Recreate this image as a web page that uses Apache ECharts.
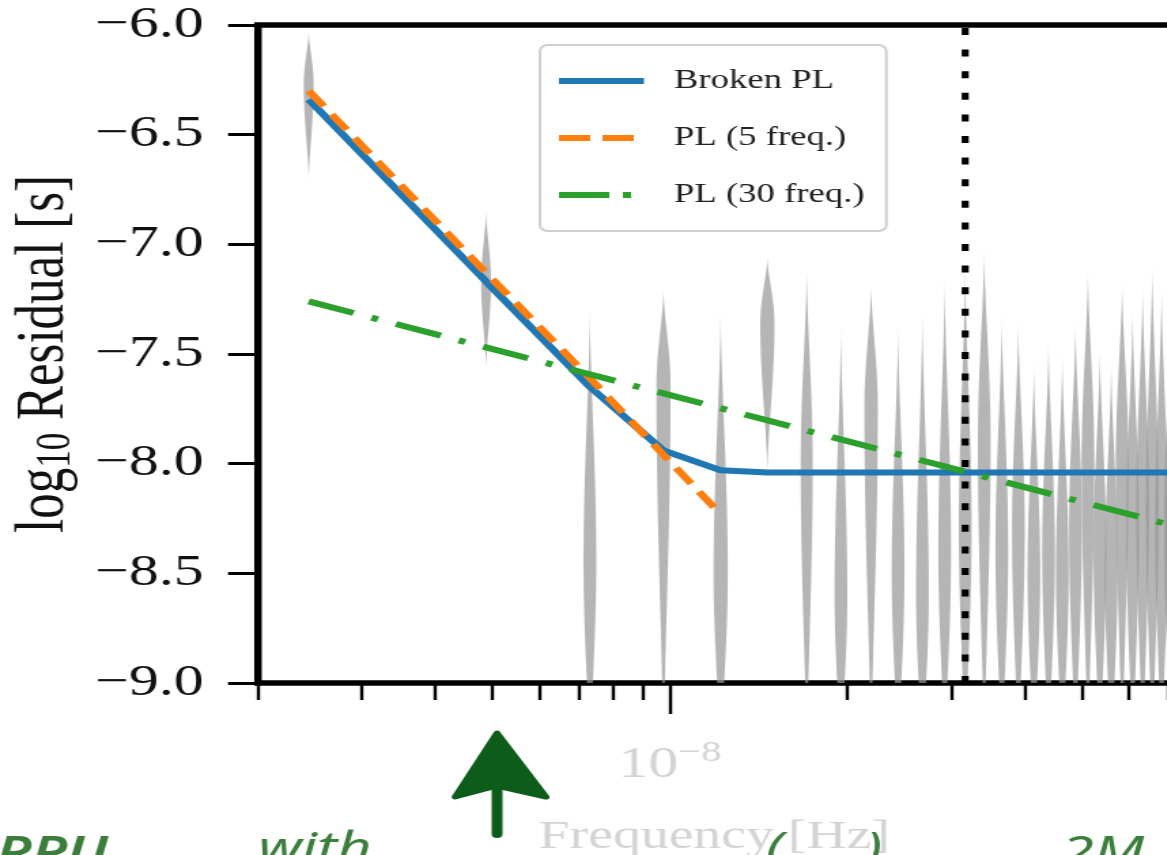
<!DOCTYPE html>
<html>
<head>
<meta charset="utf-8">
<script src="https://cdn.jsdelivr.net/npm/echarts@6/dist/echarts.min.js"></script>
<style>
html,body{margin:0;padding:0;background:#fff;overflow:hidden;}
#wrap{width:1167px;height:855px;overflow:hidden;position:relative;}
#c{width:858px;height:855px;transform:scaleX(1.36);transform-origin:0 0;}
</style>
</head>
<body>
<div id="wrap"><div id="c"></div></div>
<script>
// ---- data ----
// Fourier frequencies (Hz), i / Tspan
const freqsHz = [2.438e-9, 4.875e-9, 7.313e-9, 9.750e-9, 1.219e-8, 1.463e-8, 1.706e-8, 1.950e-8, 2.194e-8, 2.438e-8,
                 2.681e-8, 2.925e-8, 3.169e-8, 3.413e-8, 3.656e-8, 3.900e-8, 4.144e-8, 4.388e-8, 4.631e-8, 4.875e-8,
                 5.119e-8, 5.363e-8, 5.606e-8, 5.850e-8, 6.094e-8, 6.338e-8, 6.581e-8, 6.825e-8, 7.069e-8, 7.313e-8];
// violin posteriors: top, peak (densest), bottom in log10 residual, relative width
const violinTop    = [-6.03,-6.85,-7.30,-7.21,-7.31,-7.06,-7.12,-7.38,-7.19,-7.38,-7.31,-7.16,-7.10,-7.03,-7.33,-7.36,-7.55,-7.45,-7.51,-7.36,-7.12,-7.48,-7.54,-7.18,-7.30,-7.20,-7.10,-7.20,-7.25,-7.25];
const violinPeak   = [-6.27,-7.17,-8.45,-7.65,-8.50,-7.36,-8.00,-8.60,-7.75,-8.50,-8.60,-8.40,-8.30,-7.90,-8.40,-8.30,-8.50,-8.40,-8.50,-8.30,-8.00,-8.40,-8.50,-8.00,-8.30,-8.20,-8.20,-8.30,-8.30,-8.30];
const violinBottom = [-6.71,-7.57,-9.40,-9.40,-9.40,-8.05,-9.40,-9.40,-9.40,-9.40,-9.40,-9.40,-9.40,-9.40,-9.40,-9.40,-9.40,-9.40,-9.40,-9.40,-9.40,-9.40,-9.40,-9.40,-9.40,-9.40,-9.40,-9.40,-9.40,-9.40];
const violinWidth  = [0.7,0.7,0.9,1.0,1.0,1.0,0.85,0.9,0.95,0.9,0.9,0.9,0.9,0.9,0.9,0.9,0.9,0.9,0.9,0.9,0.9,0.9,0.9,0.9,0.9,0.9,0.9,0.9,0.9,0.9];
// model curves (log10 residual [s])
const brokenPL = [-6.34,-7.17,-7.65,-7.94,-8.03,-8.04,-8.04,-8.04,-8.04,-8.04,-8.04,-8.04,-8.04,-8.04,-8.04,-8.04,-8.04,-8.04,-8.04,-8.04,-8.04,-8.04,-8.04,-8.04,-8.04,-8.04,-8.04,-8.04,-8.04,-8.04];
const pl5Freq = [-6.30,-7.13,-7.61,-7.96,-8.23];          // at first 5 frequencies
const pl30Freq = [-7.26,-8.29];                            // at first and last frequency
const oneOverYearHz = 3.169e-8;
const xRangeHz = [2.0e-9, 8.65e-8];
const yTicks = [-9.0,-8.5,-8.0,-7.5,-7.0,-6.5,-6.0];
const majorTicksHz = [1e-8];
const minorTicksHz = [2e-9,3e-9,4e-9,5e-9,6e-9,7e-9,8e-9,9e-9,2e-8,3e-8,4e-8,5e-8,6e-8,7e-8,8e-8];
const seriesNames = ['Broken PL','PL (5 freq.)','PL (30 freq.)'];

// ---- build ----
const L = v => Math.log10(v);
const xMin = L(xRangeHz[0]), xMax = L(xRangeHz[1]);
const violinData = freqsHz.map((f,i)=>[L(f), violinTop[i], violinPeak[i], violinBottom[i], violinWidth[i]]);
const VW = 5.2;
function renderViolin(params, api){
  const x = api.value(0);
  const pT = api.coord([x, api.value(1)]);
  const pP = api.coord([x, api.value(2)]);
  const pB = api.coord([x, api.value(3)]);
  const W = VW * api.value(4);
  const cx = pT[0];
  const N = 30, right = [], left = [];
  for (let i=0;i<=N;i++){
    const u=i/N, y=pT[1]+(pP[1]-pT[1])*u, w=W*Math.pow(Math.sin(u*Math.PI/2),1.6);
    right.push([cx+w,y]); left.push([cx-w,y]);
  }
  for (let i=1;i<=N;i++){
    const u=i/N, y=pP[1]+(pB[1]-pP[1])*u, w=W*Math.pow(Math.cos(u*Math.PI/2),1.6);
    right.push([cx+w,y]); left.push([cx-w,y]);
  }
  return {type:'polygon', shape:{points: right.concat(left.reverse())},
          style:{fill:'rgba(150,150,150,0.7)'}};
}
const serif = 'Liberation Serif';
const green = '#3b7d3b', arrowGreen = '#0e5c1a', faded = '#d4d4d4';
const chart = echarts.init(document.getElementById('c'), null, {renderer:'canvas', width:858, height:855});
chart.setOption({
  animation:false,
  backgroundColor:'#fff',
  grid:{left:189.7, top:25, height:658, width:709, outerBoundsMode:'none',
        show:true, borderColor:'#000', borderWidth:5.5, backgroundColor:'transparent'},
  legend:{
    data:[
      {name:seriesNames[0]},
      {name:seriesNames[1], lineStyle:{type:[23,9]}},
      {name:seriesNames[2], lineStyle:{type:[37,10,6,20]}}
    ],
    orient:'vertical', left:397, top:45,
    itemWidth:62.5, itemHeight:25, itemGap:30,
    padding:[22.5,16,22.5,11],
    itemStyle:{opacity:0},
    lineStyle:{width:6},
    backgroundColor:'rgba(255,255,255,0.85)', borderColor:'#cfcfcf', borderWidth:2, borderRadius:6,
    textStyle:{fontFamily:serif, fontSize:27, lineHeight:25, color:'#222', padding:[0,0,0,17]}
  },
  xAxis:[{
    type:'value', min:xMin, max:xMax,
    axisLine:{show:false}, splitLine:{show:false},
    axisTick:{show:true, customValues:majorTicksHz.map(L), length:31, lineStyle:{color:'#000', width:2.4}},
    axisLabel:{show:true, customValues:majorTicksHz.map(L), margin:55,
      formatter:()=>'{b|10}{s|−8}',
      rich:{b:{fontFamily:serif,fontSize:44,color:faded}, s:{fontFamily:serif,fontSize:30,color:faded,padding:[0,0,24,0]}}},
    name:'Frequency [Hz]', nameLocation:'middle', nameGap:134,
    nameTextStyle:{fontFamily:serif, fontSize:41, color:faded, padding:[0,38,0,0]}
  },{
    type:'value', min:xMin, max:xMax, position:'bottom',
    axisLine:{show:false}, splitLine:{show:false},
    axisTick:{show:true, customValues:minorTicksHz.map(L), length:17, lineStyle:{color:'#000', width:2.4}},
    axisLabel:{show:false}
  }],
  yAxis:{
    type:'value', min:-9, max:-6, interval:0.5,
    axisLine:{show:false}, splitLine:{show:false},
    axisTick:{show:true, length:22, lineStyle:{color:'#000', width:3}},
    axisLabel:{fontFamily:serif, fontSize:44, color:'#111', margin:40,
      customValues:yTicks,
      formatter:v=>v.toFixed(1).replace('-','−')},
    name:'{t|log}{u|10}{t| Residual [s]}', nameLocation:'middle', nameGap:119, nameRotate:90,
    nameTextStyle:{rich:{t:{fontFamily:serif,fontSize:51,color:'#111'}, u:{fontFamily:serif,fontSize:35,color:'#111',padding:[18,0,0,0]}}}
  },
  series:[
    {type:'custom', name:'violins', renderItem:renderViolin, data:violinData, clip:true, encode:{x:0,y:[1,2,3]}, z:1},
    {type:'line', name:seriesNames[0], data:freqsHz.map((f,i)=>[L(f),brokenPL[i]]), symbol:'none', z:5,
      lineStyle:{color:'#1f77b4', width:6}, itemStyle:{color:'#1f77b4'}},
    {type:'line', name:seriesNames[1], data:pl5Freq.map((v,i)=>[L(freqsHz[i]),v]), symbol:'none', z:6,
      lineStyle:{color:'#ff7f0e', width:6, type:[19,10]}, itemStyle:{color:'#ff7f0e'}},
    {type:'line', name:seriesNames[2], data:[[L(freqsHz[0]),pl30Freq[0]],[L(freqsHz[29]),pl30Freq[1]]], symbol:'none', z:7,
      lineStyle:{color:'#2ca02c', width:6, type:[35,14,5,14]}, itemStyle:{color:'#2ca02c'}},
    {type:'line', name:'1/yr', data:[[L(oneOverYearHz),-9],[L(oneOverYearHz),-6]], symbol:'none', z:8,
      lineStyle:{color:'#000', width:5.2, type:[7,14.6]}}
  ],
  graphic:[
    {type:'polygon', shape:{points:[[365.4,733],[401.5,797],[365.4,786],[334.6,797]]}, style:{fill:arrowGreen, stroke:arrowGreen, lineWidth:5, lineJoin:'round'}, z:100},
    {type:'rect', shape:{x:361.5,y:780,width:8,height:58,r:4}, style:{fill:arrowGreen}, z:100},
    {type:'text', left:-3, top:832, style:{text:'PPU', font:'italic 600 44px "Noto Sans"', fill:green}, z:100},
    {type:'text', left:190, top:828, style:{text:'with', font:'italic 44px "Noto Sans"', fill:green}, z:100},
    {type:'text', left:563, top:828, style:{text:'(', font:'italic 44px "Noto Sans"', fill:green}, z:100},
    {type:'text', left:636, top:828, style:{text:')', font:'italic 44px "Noto Sans"', fill:green}, z:100},
    {type:'text', left:780, top:832, style:{text:'2M', font:'italic 44px "Noto Sans"', fill:green}, z:100}
  ]
});
</script>
</body>
</html>
